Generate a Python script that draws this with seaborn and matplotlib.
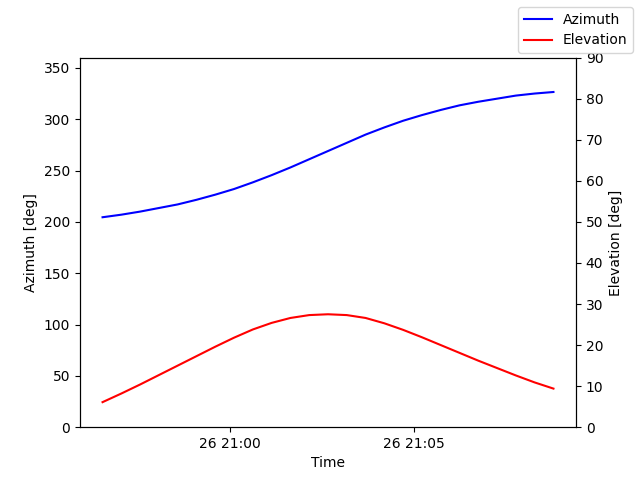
import matplotlib
matplotlib.use("Agg")
import matplotlib.pyplot as plt
import pandas as pd
import seaborn as sns

times = pd.date_range("2024-01-26 20:56:32", "2024-01-26 21:08:47", periods=25)
azimuth = [204.5, 207, 210, 213.5, 217, 221.5, 226.5, 232, 238.5, 245.5, 253, 261,
           269, 277, 285, 292, 298.5, 304, 309, 313.5, 317, 320, 323, 325, 326.5]
elevation = [6.1, 8.2, 10.4, 12.7, 15.0, 17.3, 19.6, 21.8, 23.8, 25.4, 26.6, 27.3,
             27.5, 27.3, 26.6, 25.3, 23.7, 21.9, 20.0, 18.1, 16.2, 14.4, 12.6, 10.9, 9.4]

df = pd.DataFrame({"time": times, "azimuth": azimuth, "elevation": elevation})

fig, ax = plt.subplots(figsize=(6.4, 4.8), dpi=100)
sns.lineplot(data=df, x="time", y="azimuth", color="blue", label="Azimuth", ax=ax, legend=False)
ax.set_ylim(0, 360)
ax.set_xlabel("Time")
ax.set_ylabel("Azimuth [deg]")

ax2 = ax.twinx()
sns.lineplot(data=df, x="time", y="elevation", color="red", label="Elevation", ax=ax2, legend=False)
ax2.set_ylim(0, 90)
ax2.set_ylabel("Elevation [deg]")

fig.legend(loc="upper right")
fig.savefig("out.png")
